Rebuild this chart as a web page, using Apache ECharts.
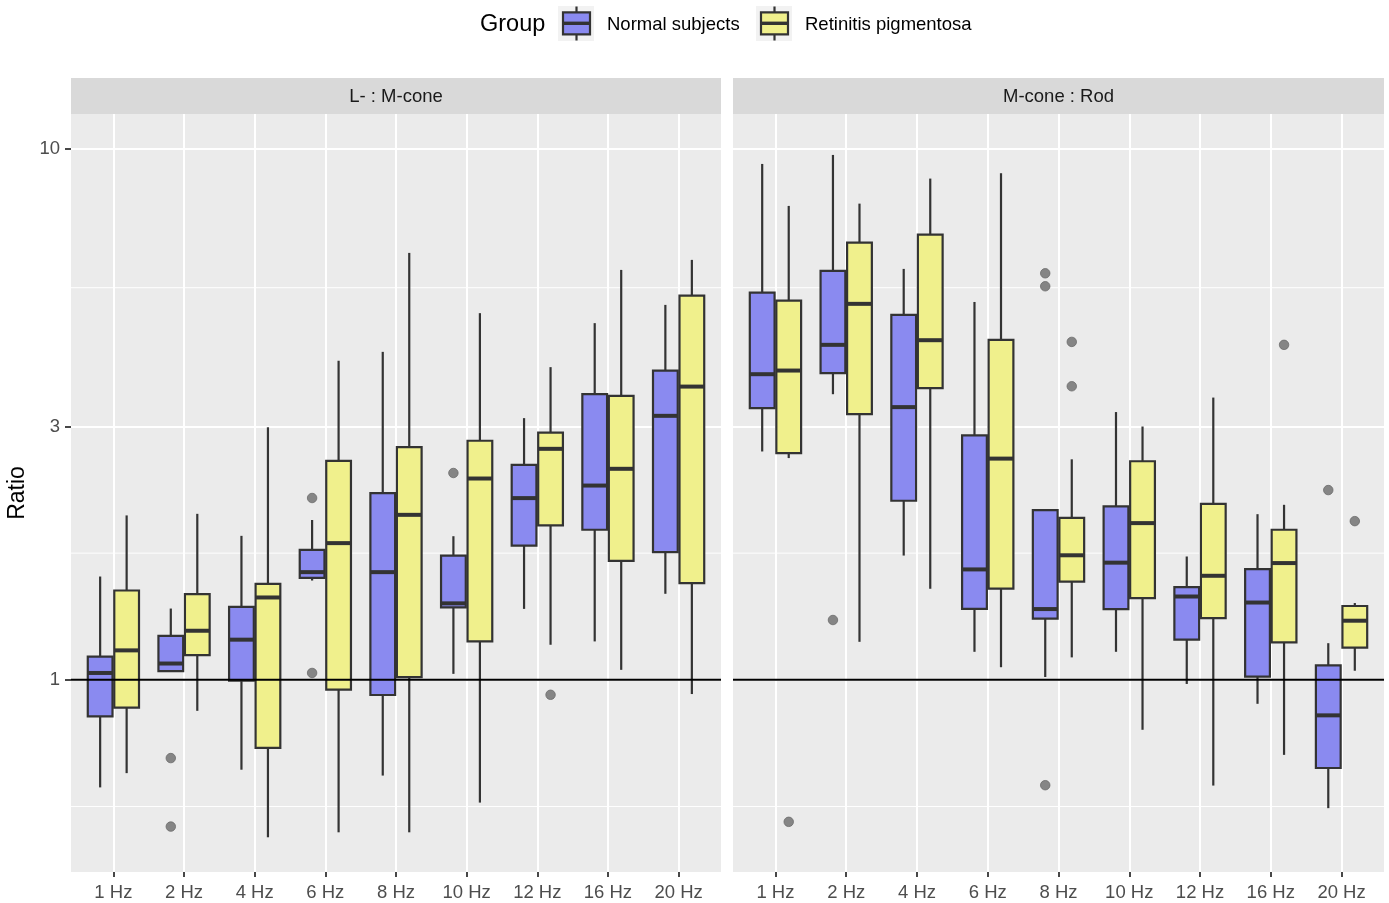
<!DOCTYPE html>
<html>
<head>
<meta charset="utf-8">
<title>Ratio by flicker frequency</title>
<script src="https://cdn.jsdelivr.net/npm/echarts@6/dist/echarts.min.js"></script>
<style>
  html, body { margin: 0; padding: 0; background: #ffffff; }
  #chart { width: 1389px; height: 903px; }
</style>
</head>
<body>
<div id="chart"></div>
<script>
const FONT = '"Liberation Sans", Arial, Helvetica, sans-serif';

const frequencies = ['1 Hz', '2 Hz', '4 Hz', '6 Hz', '8 Hz', '10 Hz', '12 Hz', '16 Hz', '20 Hz'];
const panelTitles = ['L- : M-cone', 'M-cone : Rod'];
const groupNames = ['Normal subjects', 'Retinitis pigmentosa'];
const groupColors = ['#8a8af0', '#f0f08c'];
const yTicks = [1, 3, 10];
const yMinorBreaks = [0.577, 1.732, 5.477];
const referenceRatio = 1;

// Box summaries per frequency: [lower whisker, Q1, median, Q3, upper whisker]
const lmNormal = [
  [0.627, 0.853, 1.030, 1.106, 1.565],
  [1.038, 1.038, 1.073, 1.210, 1.362],
  [0.677, 0.996, 1.190, 1.372, 1.867],
  [1.538, 1.556, 1.595, 1.757, 2.000],
  [0.660, 0.936, 1.595, 2.247, 4.147],
  [1.026, 1.369, 1.393, 1.713, 1.864],
  [1.360, 1.790, 2.199, 2.540, 3.111],
  [1.181, 1.917, 2.322, 3.451, 4.697],
  [1.452, 1.740, 3.142, 3.824, 5.084]
];
const lmRetinitis = [
  [0.667, 0.886, 1.136, 1.473, 2.040],
  [0.874, 1.113, 1.237, 1.450, 2.054],
  [0.505, 0.744, 1.429, 1.516, 2.990],
  [0.516, 0.958, 1.809, 2.585, 3.990],
  [0.516, 1.012, 2.045, 2.743, 6.370],
  [0.587, 1.181, 2.394, 2.820, 4.905],
  [1.164, 1.953, 2.723, 2.922, 3.881],
  [1.044, 1.675, 2.497, 3.426, 5.917],
  [0.940, 1.521, 3.567, 5.293, 6.180]
];
const mrNormal = [
  [2.692, 3.248, 3.764, 5.363, 9.370],
  [3.451, 3.781, 4.275, 5.891, 9.743],
  [1.714, 2.174, 3.263, 4.868, 5.943],
  [1.129, 1.360, 1.614, 2.887, 5.149],
  [1.012, 1.304, 1.359, 2.088, 2.088],
  [1.129, 1.359, 1.662, 2.122, 3.194],
  [0.982, 1.190, 1.435, 1.495, 1.707],
  [0.901, 1.014, 1.398, 1.616, 2.051],
  [0.573, 0.682, 0.857, 1.064, 1.172]
];
const mrRetinitis = [
  [2.616, 2.673, 3.824, 5.180, 7.810],
  [1.179, 3.165, 5.107, 6.661, 7.888],
  [1.484, 3.543, 4.362, 6.897, 8.793],
  [1.056, 1.485, 2.610, 4.370, 9.000],
  [1.102, 1.531, 1.716, 2.018, 2.602],
  [0.805, 1.425, 1.973, 2.580, 3.000],
  [0.632, 1.307, 1.570, 2.145, 3.401],
  [0.722, 1.176, 1.659, 1.917, 2.136],
  [1.040, 1.150, 1.292, 1.377, 1.395]
];

// Outlying observations: [frequency index, ratio]
const lmNormalOutliers = [[1, 0.712], [1, 0.529], [3, 2.200], [3, 1.030], [5, 2.452]];
const lmRetinitisOutliers = [[6, 0.937]];
const mrNormalOutliers = [[1, 1.296], [4, 5.831], [4, 5.512], [4, 0.633], [8, 2.277]];
const mrRetinitisOutliers = [[0, 0.540], [4, 4.330], [4, 3.572], [7, 4.275], [8, 1.990]];

const panels = [
  { title: panelTitles[0], boxes: [lmNormal, lmRetinitis], outliers: [lmNormalOutliers, lmRetinitisOutliers] },
  { title: panelTitles[1], boxes: [mrNormal, mrRetinitis], outliers: [mrNormalOutliers, mrRetinitisOutliers] }
];

// Layout (pixels)
const PANEL_TOP = 114, PANEL_HEIGHT = 758;
const panelLeft = [71, 733], panelWidth = [650, 651];
const STRIP_H = 36;
const DODGE = 0.1875, BOX_HALF = 0.175;
const INK = '#333333';
const LINE_W = 2.2, MEDIAN_W = 4;

function boxRenderer(fill) {
  return function (params, api) {
    const pos = api.value(0);
    const pLow = api.coord([pos, api.value(1)]);
    const pQ1 = api.coord([pos, api.value(2)]);
    const pMed = api.coord([pos, api.value(3)]);
    const pQ3 = api.coord([pos, api.value(4)]);
    const pHigh = api.coord([pos, api.value(5)]);
    const xl = api.coord([pos - BOX_HALF, 1])[0];
    const xr = api.coord([pos + BOX_HALF, 1])[0];
    const cx = pMed[0];
    const whisker = { stroke: INK, lineWidth: LINE_W };
    return {
      type: 'group',
      children: [
        { type: 'line', shape: { x1: cx, y1: pHigh[1], x2: cx, y2: pQ3[1] }, style: whisker },
        { type: 'line', shape: { x1: cx, y1: pQ1[1], x2: cx, y2: pLow[1] }, style: whisker },
        { type: 'rect', shape: { x: xl, y: pQ3[1], width: xr - xl, height: pQ1[1] - pQ3[1] },
          style: { fill: fill, stroke: INK, lineWidth: LINE_W } },
        { type: 'line', shape: { x1: xl, y1: pMed[1], x2: xr, y2: pMed[1] },
          style: { stroke: INK, lineWidth: MEDIAN_W } }
      ]
    };
  };
}

function hLineRenderer(color, width) {
  return function (params, api) {
    const cs = params.coordSys;
    const y = api.coord([1, api.value(1)])[1];
    return { type: 'line', shape: { x1: cs.x, y1: y, x2: cs.x + cs.width, y2: y },
             style: { stroke: color, lineWidth: width } };
  };
}

const grids = [], xAxes = [], yAxes = [], series = [], graphics = [];

panels.forEach(function (panel, p) {
  grids.push({ left: panelLeft[p], top: PANEL_TOP, width: panelWidth[p], height: PANEL_HEIGHT,
               show: true, backgroundColor: '#ebebeb', borderWidth: 0 });
  xAxes.push({
    type: 'value', gridIndex: p, min: 0.4, max: 9.6,
    axisLine: { show: false },
    axisTick: { show: true, customValues: [1, 2, 3, 4, 5, 6, 7, 8, 9], length: 5,
                lineStyle: { color: INK, width: 1.8 } },
    axisLabel: { customValues: [1, 2, 3, 4, 5, 6, 7, 8, 9], margin: 11,
                 formatter: function (v) { return frequencies[Math.round(v) - 1]; },
                 color: '#4d4d4d', fontSize: 18.5, fontFamily: FONT },
    splitLine: { show: true, lineStyle: { color: '#ffffff', width: 2 } }
  });
  yAxes.push({
    type: 'log', logBase: 10, gridIndex: p, min: 0.4344, max: 11.636,
    name: p === 0 ? 'Ratio' : '', nameLocation: 'middle', nameRotate: 90, nameGap: 42,
    nameTextStyle: { color: '#000000', fontSize: 23, fontFamily: FONT },
    axisLine: { show: false },
    axisTick: { show: p === 0, customValues: yTicks, length: 6,
                lineStyle: { color: INK, width: 1.8 } },
    axisLabel: { show: p === 0, customValues: yTicks, margin: 11,
                 color: '#4d4d4d', fontSize: 18.5, fontFamily: FONT },
    splitLine: { show: true, lineStyle: { color: '#ffffff', width: 2 } }
  });

  // minor horizontal grid
  series.push({
    type: 'custom', name: 'minor-grid-' + p, xAxisIndex: p, yAxisIndex: p, silent: true, z: 1,
    renderItem: hLineRenderer('#ffffff', 1),
    encode: { x: 0, y: 1 },
    data: yMinorBreaks.map(function (v) { return [1, v]; })
  });

  panel.boxes.forEach(function (rows, g) {
    const offset = g === 0 ? -DODGE : DODGE;
    series.push({
      type: 'custom', name: groupNames[g], xAxisIndex: p, yAxisIndex: p, z: 3,
      renderItem: boxRenderer(groupColors[g]),
      itemStyle: { color: groupColors[g] },
      encode: { x: 0, y: [1, 2, 3, 4, 5] },
      data: rows.map(function (r, i) { return [i + 1 + offset].concat(r); })
    });
    series.push({
      type: 'scatter', name: groupNames[g] + ' outliers', xAxisIndex: p, yAxisIndex: p, z: 4,
      symbolSize: 9.5,
      itemStyle: { color: '#858585', borderColor: '#6b6b6b', borderWidth: 0.8, opacity: 1 },
      data: panel.outliers[g].map(function (o) { return [o[0] + 1 + offset, o[1]]; })
    });
  });

  // reference ratio line
  series.push({
    type: 'custom', name: 'reference-' + p, xAxisIndex: p, yAxisIndex: p, silent: true, z: 6,
    renderItem: hLineRenderer('#000000', 2),
    encode: { x: 0, y: 1 },
    data: [[1, referenceRatio]]
  });

  // facet strip
  graphics.push({
    type: 'rect', left: panelLeft[p], top: PANEL_TOP - STRIP_H, silent: true,
    shape: { width: panelWidth[p], height: STRIP_H }, style: { fill: '#d9d9d9' }
  });
  graphics.push({
    type: 'text', silent: true,
    x: panelLeft[p] + panelWidth[p] / 2, y: PANEL_TOP - STRIP_H / 2 + 0.5,
    style: { text: panel.title, fill: '#1a1a1a', font: '18.5px ' + FONT,
             align: 'center', verticalAlign: 'middle' }
  });
});

// Legend
graphics.push({
  type: 'text', silent: true, x: 480, y: 24.5,
  style: { text: 'Group', fill: '#000000', font: '23.5px ' + FONT, align: 'left', verticalAlign: 'middle' }
});
const keyLeft = [558, 756];
groupNames.forEach(function (name, g) {
  const kx = keyLeft[g];
  const cx = kx + 18.5;
  graphics.push({ type: 'rect', silent: true, shape: { x: kx, y: 6, width: 36, height: 35 }, style: { fill: '#f2f2f2' } });
  graphics.push({ type: 'line', silent: true, shape: { x1: cx, y1: 6.5, x2: cx, y2: 12.3 }, style: { stroke: INK, lineWidth: LINE_W } });
  graphics.push({ type: 'line', silent: true, shape: { x1: cx, y1: 34.3, x2: cx, y2: 40.5 }, style: { stroke: INK, lineWidth: LINE_W } });
  graphics.push({ type: 'rect', silent: true, shape: { x: kx + 5, y: 12.3, width: 27, height: 22 },
                  style: { fill: groupColors[g], stroke: INK, lineWidth: LINE_W } });
  graphics.push({ type: 'line', silent: true, shape: { x1: kx + 5, y1: 23.3, x2: kx + 32, y2: 23.3 }, style: { stroke: INK, lineWidth: 3.4 } });
  graphics.push({
    type: 'text', silent: true, x: kx + 49, y: 24.5,
    style: { text: name, fill: '#000000', font: '18.5px ' + FONT, align: 'left', verticalAlign: 'middle' }
  });
});

const chart = echarts.init(document.getElementById('chart'), null, { renderer: 'canvas' });
chart.setOption({
  backgroundColor: '#ffffff',
  animation: false,
  textStyle: { fontFamily: FONT },
  grid: grids,
  xAxis: xAxes,
  yAxis: yAxes,
  series: series,
  graphic: graphics
});
</script>
</body>
</html>
